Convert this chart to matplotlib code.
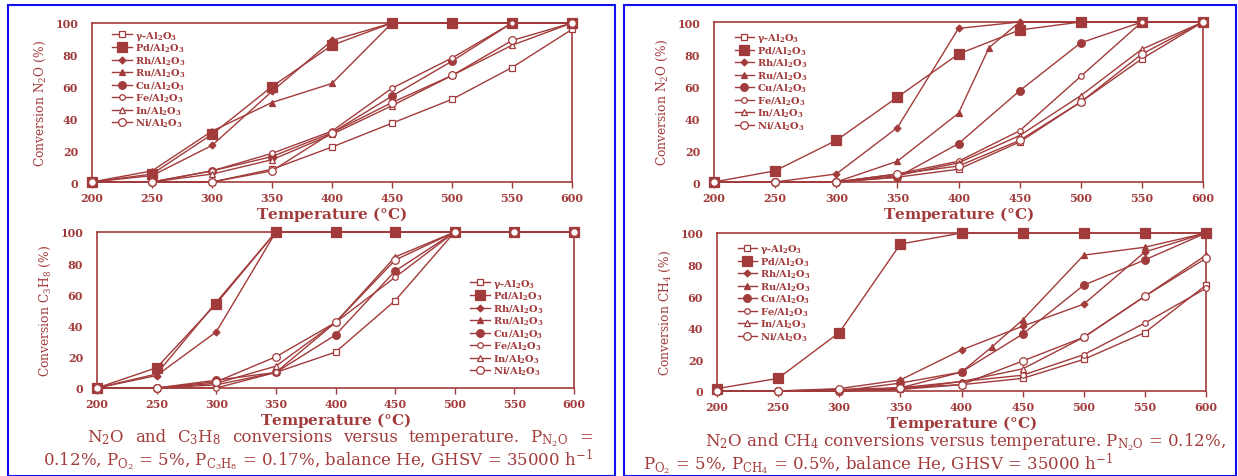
import numpy as np
import matplotlib
matplotlib.use('Agg')
import matplotlib.pyplot as plt
from matplotlib.patches import Rectangle

plt.rcParams['font.family'] = ['DejaVu Serif']
plt.rcParams['mathtext.fontset'] = 'custom'
plt.rcParams['mathtext.rm'] = 'DejaVu Serif'
plt.rcParams['mathtext.it'] = 'DejaVu Serif:italic'
plt.rcParams['mathtext.bf'] = 'DejaVu Serif:bold'
plt.rcParams['mathtext.default'] = 'regular'

RED = '#A23B3B'

# temperatures (°C)
temps = [200, 250, 300, 350, 400, 450, 500, 550, 600]
temps_ru = [200, 250, 300, 350, 400, 425, 450, 500, 550, 600]

catalysts = ['γ-Al$_2$O$_3$', 'Pd/Al$_2$O$_3$', 'Rh/Al$_2$O$_3$', 'Ru/Al$_2$O$_3$',
             'Cu/Al$_2$O$_3$', 'Fe/Al$_2$O$_3$', 'In/Al$_2$O$_3$', 'Ni/Al$_2$O$_3$']

# N2O + C3H8 system: N2O conversion
n2o_c3_gamma = [0, 0, 0, 8, 22, 37, 52, 72, 96]
n2o_c3_pd = [0, 5, 30, 60, 86, 100, 100, 100, 100]
n2o_c3_rh = [0, 4, 23, 57, 89, 100, 100, 100, 100]
n2o_c3_ru = [0, 7, 32, 50, 62, 100, 100, 100, 100]
n2o_c3_cu = [0, 0, 7, 16, 31, 54, 76, 100, 100]
n2o_c3_fe = [0, 0, 7, 18, 32, 59, 78, 100, 100]
n2o_c3_in = [0, 0, 5, 14, 30, 48, 67, 86, 100]
n2o_c3_ni = [0, 0, 0, 7, 31, 50, 67, 89, 100]

# N2O + C3H8 system: C3H8 conversion
c3h8_gamma = [0, 0, 2, 10, 23, 56, 100, 100, 100]
c3h8_pd = [0, 13, 54, 100, 100, 100, 100, 100, 100]
c3h8_rh = [0, 8, 36, 100, 100, 100, 100, 100, 100]
c3h8_ru = [0, 9, 55, 100, 100, 100, 100, 100, 100]
c3h8_cu = [0, 0, 5, 10, 34, 75, 100, 100, 100]
c3h8_fe = [0, 0, 0, 10, 42, 71, 100, 100, 100]
c3h8_in = [0, 0, 3, 14, 42, 84, 100, 100, 100]
c3h8_ni = [0, 0, 4, 20, 42, 82, 100, 100, 100]

# N2O + CH4 system: N2O conversion (Ru has an extra point at 425)
n2o_ch4_gamma = [0, 0, 0, 3, 8, 25, 50, 77, 100]
n2o_ch4_pd = [0, 7, 26, 53, 80, 95, 100, 100, 100]
n2o_ch4_rh = [0, 0, 5, 34, 96, 100, 100, 100, 100]
n2o_ch4_ru = [0, 0, 0, 13, 43, 84, 100, 100, 100, 100]
n2o_ch4_cu = [0, 0, 0, 3, 24, 57, 87, 100, 100]
n2o_ch4_fe = [0, 0, 0, 5, 13, 32, 66, 100, 100]
n2o_ch4_in = [0, 0, 0, 4, 12, 29, 54, 83, 100]
n2o_ch4_ni = [0, 0, 0, 5, 10, 26, 50, 80, 100]

# N2O + CH4 system: CH4 conversion
ch4_gamma = [0, 0, 0, 1, 4, 8, 20, 37, 67]
ch4_pd = [1.5, 8, 37, 93, 100, 100, 100, 100, 100]
ch4_rh = [0, 0, 1.5, 7, 26, 41, 55, 88, 100]
ch4_ru = [0, 0, 0, 2, 12, 28, 45, 86, 91, 100]
ch4_cu = [0, 0, 0, 5, 12, 36, 67, 83, 100]
ch4_fe = [0, 0, 0, 1, 6, 10, 23, 43, 65]
ch4_in = [0, 0, 0, 2, 6, 14, 34, 60, 86]
ch4_ni = [0, 0, 1, 2, 4, 19, 34, 60, 84]

# marker style per catalyst: (marker, filled, size)
styles = [('s', False, 5), ('s', True, 7), ('D', True, 3.5), ('^', True, 5),
          ('o', True, 5.5), ('o', False, 4), ('^', False, 5), ('o', False, 5.5)]


def draw_panel(ax, series, ylabel, legend_anchor):
    for label, (x, y), (m, filled, ms) in zip(catalysts, series, styles):
        ax.plot(x, y, color=RED, lw=1.0, marker=m, ms=ms,
                mfc=RED if filled else 'white', mec=RED, mew=0.9,
                label=label, clip_on=False, zorder=3)
    ax.set_xlim(200, 600)
    ax.set_ylim(0, 100)
    ax.set_xticks(range(200, 601, 50))
    ax.set_yticks(range(0, 101, 20))
    for s in ax.spines.values():
        s.set_color(RED)
        s.set_linewidth(1.2)
    ax.tick_params(axis='x', direction='out', length=4, width=1, color=RED,
                   labelcolor=RED, labelsize=8, pad=3)
    ax.tick_params(axis='y', length=0, labelcolor=RED, labelsize=8, pad=10)
    for lab in ax.get_xticklabels() + ax.get_yticklabels():
        lab.set_fontweight('bold')
    ax.set_xlabel('Temperature ($\\degree$C)', color=RED, fontsize=11,
                  fontweight='bold', labelpad=1)
    ax.set_ylabel(ylabel, color=RED, fontsize=8.8, labelpad=5)
    leg = ax.legend(loc='upper left', bbox_to_anchor=legend_anchor, frameon=False,
                    prop={'size': 7.1, 'weight': 'bold'}, handlelength=2.0,
                    handletextpad=0.3, labelspacing=0.0, borderpad=0.1)
    for t in leg.get_texts():
        t.set_color(RED)


fig = plt.figure(figsize=(12.38, 4.77), dpi=100)
W, H = 1238.0, 477.0


def add_axes(x0, y0, x1, y1):
    return fig.add_axes([x0 / W, 1 - y1 / H, (x1 - x0) / W, (y1 - y0) / H])


ax1 = add_axes(92, 24, 572, 183)
ax2 = add_axes(97, 233, 574, 389)
ax3 = add_axes(714, 23, 1203, 183)
ax4 = add_axes(717, 234, 1206, 392)

T, TR = temps, temps_ru
draw_panel(ax1, [(T, n2o_c3_gamma), (T, n2o_c3_pd), (T, n2o_c3_rh), (T, n2o_c3_ru),
                 (T, n2o_c3_cu), (T, n2o_c3_fe), (T, n2o_c3_in), (T, n2o_c3_ni)],
           'Conversion N$_2$O (%)', (0.03, 1.0))
draw_panel(ax2, [(T, c3h8_gamma), (T, c3h8_pd), (T, c3h8_rh), (T, c3h8_ru),
                 (T, c3h8_cu), (T, c3h8_fe), (T, c3h8_in), (T, c3h8_ni)],
           'Conversion C$_3$H$_8$ (%)', (0.77, 0.75))
draw_panel(ax3, [(T, n2o_ch4_gamma), (T, n2o_ch4_pd), (T, n2o_ch4_rh), (TR, n2o_ch4_ru),
                 (T, n2o_ch4_cu), (T, n2o_ch4_fe), (T, n2o_ch4_in), (T, n2o_ch4_ni)],
           'Conversion N$_2$O (%)', (0.03, 0.98))
draw_panel(ax4, [(T, ch4_gamma), (T, ch4_pd), (T, ch4_rh), (TR, ch4_ru),
                 (T, ch4_cu), (T, ch4_fe), (T, ch4_in), (T, ch4_ni)],
           'Conversion CH$_4$ (%)', (0.03, 0.98))

# blue frames around the two figure panels
for x0, x1 in [(8, 615), (624, 1236)]:
    fig.add_artist(Rectangle((x0 / W, 0), (x1 - x0) / W, 1 - 6 / H,
                             transform=fig.transFigure, fill=False,
                             ec='#1010F0', lw=1.5))


def justified(words, x0, x1, y, size):
    texts = [fig.text(0, y / H, w, fontsize=size, color=RED, va='baseline')
                 for w in words]
    r = fig.canvas.get_renderer()
    widths = [t.get_window_extent(r).width for t in texts]
    gap = (x1 - x0 - sum(widths)) / (len(words) - 1)
    x = x0
    for t, w in zip(texts, widths):
        t.set_x(x / W)
        x += w + gap


cap = 12.0
justified(['N$_2$O', 'and', 'C$_3$H$_8$', 'conversions', 'versus', 'temperature.',
           'P$_{N_2O}$', '='], 87, 593, H - 442, cap)
fig.text(593 / W, 1 - 466 / H,
         '0.12%, P$_{O_2}$ = 5%, P$_{C_3H_8}$ = 0.17%, balance He, GHSV = 35000 h$^{-1}$',
         fontsize=cap, color=RED, ha='right', va='baseline')
fig.text(1226 / W, 1 - 446 / H,
         'N$_2$O and CH$_4$ conversions versus temperature. P$_{N_2O}$ = 0.12%,',
         fontsize=cap, color=RED, ha='right', va='baseline')
fig.text(643 / W, 1 - 470 / H,
         'P$_{O_2}$ = 5%, P$_{CH_4}$ = 0.5%, balance He, GHSV = 35000 h$^{-1}$',
         fontsize=cap, color=RED, ha='left', va='baseline')

fig.savefig('out.png', dpi=100)
